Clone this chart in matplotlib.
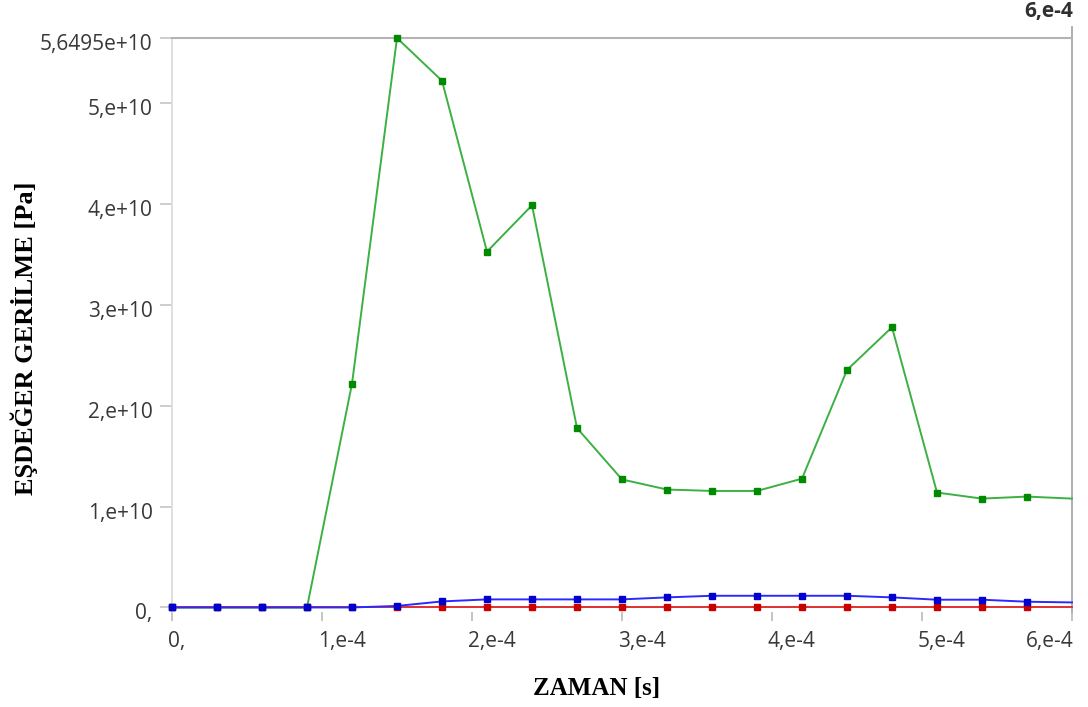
import matplotlib
matplotlib.use("Agg")
import matplotlib.pyplot as plt
import matplotlib.transforms as mtransforms
from matplotlib.lines import Line2D

# zaman adimlari [s]
zaman = [0.0, 0.3e-4, 0.6e-4, 0.9e-4, 1.2e-4, 1.5e-4, 1.8e-4, 2.1e-4, 2.4e-4,
         2.7e-4, 3.0e-4, 3.3e-4, 3.6e-4, 3.9e-4, 4.2e-4, 4.5e-4, 4.8e-4,
         5.1e-4, 5.4e-4, 5.7e-4, 6.0e-4]

# esdeger gerilme [Pa]: maksimum / ortalama / minimum
gerilme_max = [0, 0, 0, 0, 2.22e10, 5.6495e10, 5.225e10, 3.53e10, 3.99e10,
               1.78e10, 1.27e10, 1.17e10, 1.156e10, 1.156e10, 1.278e10,
               2.356e10, 2.78e10, 1.14e10, 1.08e10, 1.10e10, 1.08e10]
gerilme_ort = [0, 0, 0, 0, 0, 1.5e8, 6e8, 8e8, 8e8, 8e8, 8e8, 1.0e9,
               1.16e9, 1.16e9, 1.16e9, 1.16e9, 1.0e9, 7.7e8, 7.7e8, 5.7e8, 5.0e8]
gerilme_min = [0] * 21

xticks = [0, 1e-4, 2e-4, 3e-4, 4e-4, 5e-4, 6e-4]
xlabels = ["0,", "1,e-4", "2,e-4", "3,e-4", "4,e-4", "5,e-4", "6,e-4"]
yticks = [0, 1e10, 2e10, 3e10, 4e10, 5e10, 5.6495e10]
ylabels = ["0,", "1,e+10", "2,e+10", "3,e+10", "4,e+10", "5,e+10", "5,6495e+10"]

W, H = 1088, 707
fig = plt.figure(figsize=(W / 100, H / 100), dpi=100)
ax = fig.add_axes([172 / W, 1 - 612 / H, 900 / W, 574 / H])

son = range(len(zaman) - 1)
ax.plot(zaman, gerilme_max, color="#3cb043", lw=1.4, marker="s", ms=3.8,
        mfc="#008a00", mec="#008a00", markevery=son, clip_on=False, zorder=3)
ax.plot(zaman, gerilme_min, color="#e03030", lw=1.4, marker="s", ms=3.8,
        mfc="#c80000", mec="#c80000", markevery=son, clip_on=False, zorder=4)
ax.plot(zaman, gerilme_ort, color="#2a2aff", lw=1.4, marker="s", ms=3.8,
        mfc="#0000d0", mec="#0000d0", markevery=son, clip_on=False, zorder=5)

ax.set_xlim(0, 6e-4)
ax.set_ylim(-4.5e8, 5.6495e10)

for s in ["bottom", "right"]:
    ax.spines[s].set_visible(False)
ax.spines["left"].set_color("#dcdcdc")
ax.spines["left"].set_linewidth(1.3)
ax.spines["top"].set_color("#b4b4b4")
ax.spines["top"].set_linewidth(1.5)

# sag kenar cizgisi ustteki etikete kadar uzanir
ax.add_line(Line2D([1, 1], [0, 1.019], transform=ax.transAxes, color="#a8a8a8",
                   lw=1.3, clip_on=False))

tick_font = dict(family="Open Sans", size=15, color="#383838")
ax.set_xticks(xticks)
ax.set_xticklabels(xlabels, **tick_font)
ax.set_yticks(yticks)
ax.set_yticklabels(ylabels, **tick_font)
ax.tick_params(axis="x", direction="out", length=6.5, width=1.1, color="#b4b4b4", pad=7)
ax.tick_params(axis="y", direction="out", length=9, width=1.1, color="#c0c0c0", pad=5)

dx = mtransforms.ScaledTranslation(-4 / 100, 0, fig.dpi_scale_trans)
for lab in ax.get_xticklabels()[:-1]:
    lab.set_ha("left")
    lab.set_transform(lab.get_transform() + dx)
ax.get_xticklabels()[-1].set_ha("right")
ax.get_xticklabels()[-1].set_transform(ax.get_xticklabels()[-1].get_transform()
                                       + mtransforms.ScaledTranslation(2 / 100, 0, fig.dpi_scale_trans))

dy = mtransforms.ScaledTranslation(0, -4 / 100, fig.dpi_scale_trans)
for lab in ax.get_yticklabels():
    lab.set_transform(lab.get_transform() + dy)

fig.text(1073 / W, 1 - 12 / H, "6,e-4", ha="right", va="center",
         family="Open Sans", weight="bold", size=15, color="#303030")

fig.text(597 / W, 1 - 688 / H, "ZAMAN [s]", ha="center", va="center",
         family="Liberation Serif", weight="bold", size=18, color="black")
fig.text(24 / W, 1 - 338 / H, "EŞDEĞER GERİLME [Pa]", ha="center", va="center",
         rotation=90, family="Liberation Serif", weight="bold", size=19, color="black")

fig.savefig("out.png", dpi=100)
